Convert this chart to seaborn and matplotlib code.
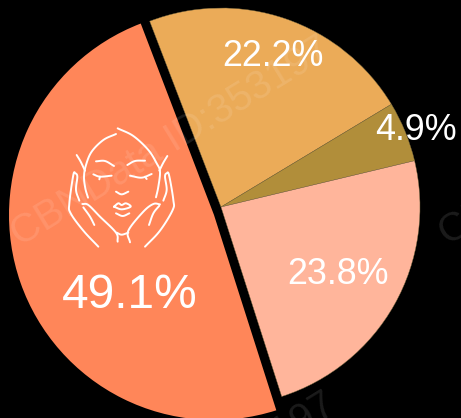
import numpy as np
import seaborn as sns
import matplotlib
matplotlib.use("Agg")
import matplotlib.pyplot as plt

sns.set_theme(style="white")
plt.rcParams['font.family'] = ['Liberation Sans', 'DejaVu Sans']

# values, clockwise from the upper boundary
main_values = [22.2, 4.9, 23.8]
main_labels = ["22.2%", "4.9%", "23.8%"]
main_colors = ["#EBAB58", "#B18E3A", "#FFB59B"]
big_value = 49.1
big_label = "49.1%"
big_color = "#FF8659"
watermark = "CBNData ID:353197"

W, H = 461, 418
fig = plt.figure(figsize=(W / 100, H / 100), dpi=100, facecolor="black")
ax = fig.add_axes([0, 0, 1, 1], facecolor="black")

cx, cy, R = 221, H - 207, 199
# three joined slices: the rest of the circle is left unpainted
w1, _ = ax.pie(main_values + [big_value], colors=main_colors + ["none"], center=(cx, cy), radius=R,
               startangle=90 + 21, counterclock=False, frame=True,
               wedgeprops=dict(linewidth=0.3, edgecolor="#7a6a40"))
w1[-1].set_visible(False)
# the pulled-out slice
w2, _ = ax.pie([big_value] + main_values, colors=[big_color] + ["none"] * 3, center=(214, H - 215),
               radius=205, startangle=90 - 162.3, counterclock=False, frame=True,
               wedgeprops=dict(linewidth=0))
for w in w2[1:]:
    w.set_visible(False)

ax.set_xlim(0, W)
ax.set_ylim(0, H)
ax.set_aspect("equal")
ax.axis("off")


def zpt(p):
    p = np.asarray(p, float)
    return 50 + p[:, 0] / 3, H - (110 + p[:, 1] / 3)


def smooth(x, y, n=10):
    pts = np.column_stack([x, y])
    P = np.vstack([2 * pts[0] - pts[1], pts, 2 * pts[-1] - pts[-2]])
    out = []
    for i in range(1, len(P) - 2):
        for t in np.linspace(0, 1, n, endpoint=False):
            out.append(0.5 * (2 * P[i] + (P[i + 1] - P[i - 1]) * t
                              + (2 * P[i - 1] - 5 * P[i] + 4 * P[i + 1] - P[i + 2]) * t ** 2
                              + (3 * P[i] - P[i - 1] - 3 * P[i + 1] + P[i + 2]) * t ** 3))
    out.append(P[-2])
    out = np.array(out)
    return out[:, 0], out[:, 1]


strokes = [
    [(203, 55), (250, 78), (295, 120), (320, 160), (330, 185), (325, 230), (318, 262)],
    [(198, 72), (160, 90), (125, 125), (108, 165), (102, 200), (106, 235), (114, 263)],
    [(80, 135), (92, 155), (105, 182)],
    [(352, 138), (340, 158), (328, 182)],
    [(138, 154), (165, 153), (192, 168)],
    [(232, 165), (255, 153), (285, 152)],
    [(130, 193), (150, 200), (185, 197)],
    [(150, 200), (148, 208)],
    [(240, 197), (275, 203), (305, 192)],
    [(285, 200), (290, 207)],
    [(198, 245), (215, 253), (235, 245)],
    [(192, 290), (205, 280), (215, 285), (228, 280), (242, 290), (215, 298), (192, 290)],
    [(198, 310), (218, 318), (238, 310)],
    [(145, 410), (100, 362), (62, 310), (58, 280), (70, 195), (76, 190), (82, 200), (78, 240), (88, 272)],
    [(97, 282), (115, 285), (150, 320), (198, 368), (203, 395)],
    [(100, 292), (120, 320), (133, 345)],
    [(200, 368), (215, 374), (235, 368)],
    [(330, 283), (310, 282), (280, 305), (235, 362), (240, 397)],
    [(328, 287), (310, 310), (297, 345)],
    [(285, 410), (330, 362), (368, 300), (370, 270), (357, 195), (350, 190), (345, 200), (350, 240), (340, 272)],
]
for s in strokes:
    x, y = smooth(*zpt(s))
    ax.plot(x, y, color="white", lw=1.4, solid_capstyle="round", solid_joinstyle="round", zorder=4)

label_pos = [(273, 57), (416, 130), (338, 275)]
for lab, (x, y) in zip(main_labels, label_pos):
    ax.text(x, H - y, lab, color="white", fontsize=25.8, ha="center", va="center", zorder=5)
ax.text(130, H - 296, big_label, color="white", fontsize=34.5, ha="center", va="center", zorder=5)

for (x, y) in [(20, 247), (448, 246), (25, 603)]:
    ax.text(x, H - y, watermark, color="white", alpha=0.11, fontsize=29, rotation=31.5,
            rotation_mode="anchor", ha="left", va="baseline", zorder=6, clip_on=True)

fig.savefig("out.png", dpi=100, facecolor="black")
